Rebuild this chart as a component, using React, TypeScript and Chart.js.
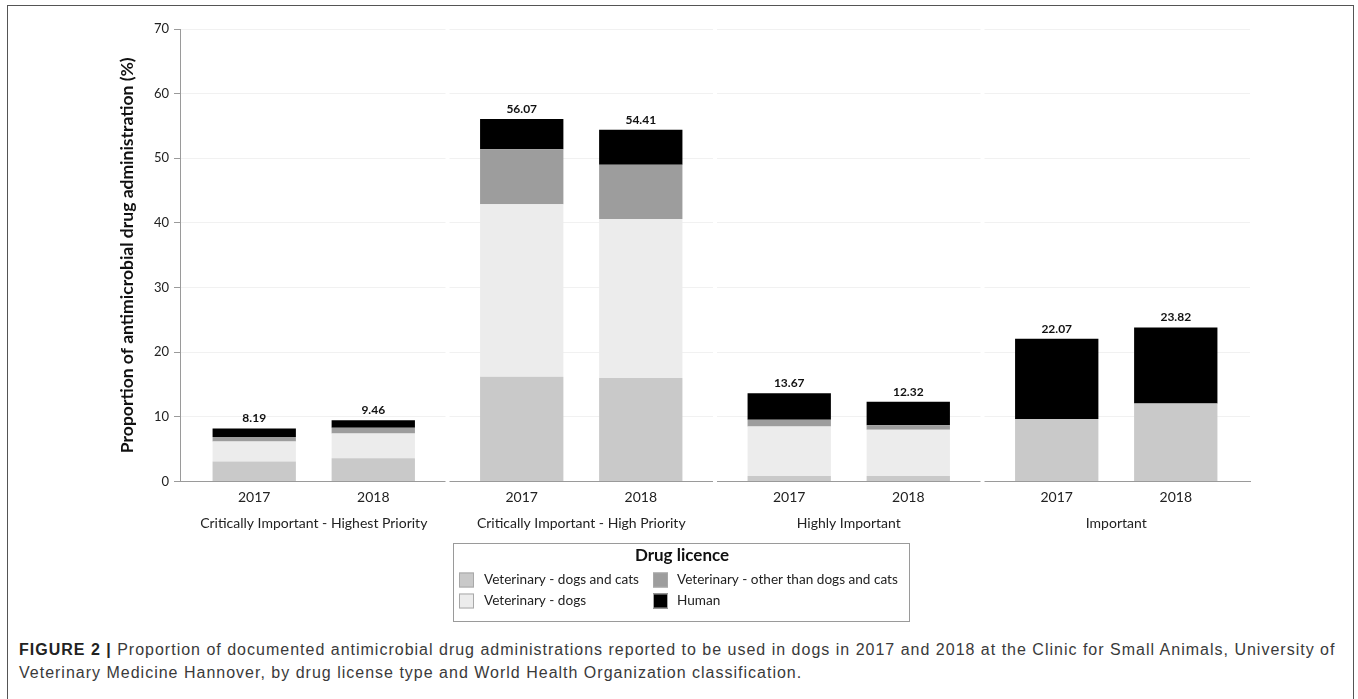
import React, { useEffect, useRef } from 'react';
import { Chart, registerables } from 'chart.js';

Chart.register(...registerables);

const FONT = 'Lato, "Open Sans", sans-serif';

const categories = [
  'Critically Important - Highest Priority',
  'Critically Important - High Priority',
  'Highly Important',
  'Important',
];
const years = ['2017', '2018'];
const seriesNames = [
  'Veterinary - dogs and cats',
  'Veterinary - dogs',
  'Veterinary - other than dogs and cats',
  'Human',
];
const seriesColors = ['#c9c9c9', '#ececec', '#9d9d9d', '#000000'];

const vetDogsCats2017 = [3.08, 16.2, 0.85, 9.65];
const vetDogs2017 = [3.1, 26.7, 7.65, 0];
const vetOther2017 = [0.72, 8.5, 1.05, 0];
const human2017 = [1.29, 4.67, 4.12, 12.42];

const vetDogsCats2018 = [3.6, 16.0, 0.85, 12.08];
const vetDogs2018 = [3.82, 24.6, 7.15, 0];
const vetOther2018 = [0.88, 8.4, 0.72, 0];
const human2018 = [1.16, 5.41, 3.6, 11.74];

const totals2017 = [8.19, 56.07, 13.67, 22.07];
const totals2018 = [9.46, 54.41, 12.32, 23.82];

const yTicks = [0, 10, 20, 30, 40, 50, 60, 70];

const seriesByYear = [
  [vetDogsCats2017, vetDogs2017, vetOther2017, human2017],
  [vetDogsCats2018, vetDogs2018, vetOther2018, human2018],
];
const totalsByYear = [totals2017, totals2018];

const decorPlugin = {
  id: 'decor',
  beforeDatasetsDraw(chart: any) {
    const { ctx, chartArea, scales } = chart;
    const x = scales.x;
    const w = (chartArea.right - chartArea.left) / categories.length;
    ctx.save();
    ctx.fillStyle = '#ffffff';
    for (let i = 0; i < categories.length - 1; i++) {
      const bx = x.getPixelForValue(i) + w / 2;
      ctx.fillRect(bx - 2, chartArea.top - 2, 4, chartArea.bottom - chartArea.top + 4);
    }
    ctx.restore();
  },
  afterDatasetsDraw(chart: any) {
    const { ctx, chartArea, scales } = chart;
    const y = scales.y;
    ctx.save();
    ctx.textAlign = 'center';
    ctx.textBaseline = 'middle';
    years.forEach((yr, yi) => {
      const meta = chart.getDatasetMeta(yi * seriesNames.length);
      meta.data.forEach((bar: any, i: number) => {
        const total = totalsByYear[yi][i];
        ctx.font = `bold 12px ${FONT}`;
        ctx.fillStyle = '#111111';
        ctx.fillText(total.toFixed(2), bar.x, y.getPixelForValue(total) - 10);
        ctx.font = `14px ${FONT}`;
        ctx.fillStyle = '#222222';
        ctx.fillText(yr, bar.x, chartArea.bottom + 16);
      });
    });
    ctx.restore();
  },
  afterDraw(chart: any) {
    const { ctx } = chart;
    const box = { x: 453.5, y: 543.5, w: 456, h: 78 };
    ctx.save();
    ctx.strokeStyle = '#9a9a9a';
    ctx.lineWidth = 1;
    ctx.strokeRect(box.x, box.y, box.w, box.h);
    ctx.font = `bold 17px ${FONT}`;
    ctx.fillStyle = '#111111';
    ctx.textAlign = 'center';
    ctx.textBaseline = 'middle';
    ctx.fillText('Drug licence', 682, 556);
    const colSwatch = [459, 653];
    const colText = [484, 677];
    const rowY = [580, 601];
    ctx.textAlign = 'left';
    ctx.font = `13.6px ${FONT}`;
    seriesNames.forEach((name, s) => {
      const col = Math.floor(s / 2);
      const row = s % 2;
      const cy = rowY[row];
      ctx.fillStyle = seriesColors[s];
      ctx.fillRect(colSwatch[col], cy - 7.5, 15, 15);
      ctx.strokeStyle = '#a8a8a8';
      ctx.strokeRect(colSwatch[col] + 0.5, cy - 7, 14, 14);
      ctx.fillStyle = '#222222';
      ctx.fillText(name, colText[col], cy);
    });
    ctx.restore();
  },
};

export default function App() {
  const ref = useRef<HTMLCanvasElement | null>(null);

  useEffect(() => {
    if (!ref.current) return;
    const datasets: any[] = [];
    years.forEach((yr, yi) => {
      seriesNames.forEach((name, s) => {
        datasets.push({
          label: name,
          data: seriesByYear[yi][s],
          backgroundColor: seriesColors[s],
          borderWidth: 0,
          stack: yr,
          categoryPercentage: 0.89,
          barPercentage: 0.7,
        });
      });
    });
    const chart = new Chart(ref.current, {
      type: 'bar',
      data: { labels: categories, datasets },
      plugins: [decorPlugin],
      options: {
        animation: false,
        responsive: false,
        layout: { padding: { left: 117, right: 108, top: 29, bottom: 88.5 } },
        plugins: {
          legend: { display: false },
          tooltip: { enabled: false },
        },
        scales: {
          x: {
            stacked: true,
            grid: { display: false },
            border: { display: true, color: '#9a9a9a', width: 1 },
            ticks: {
              color: '#222222',
              font: { family: FONT, size: 14 },
              padding: 26,
              maxRotation: 0,
              autoSkip: false,
            },
            afterFit: (scale: any) => {
              scale.height = 60;
            },
          },
          y: {
            stacked: true,
            min: 0,
            max: 70,
            afterBuildTicks: (scale: any) => {
              scale.ticks = yTicks.map((v) => ({ value: v }));
            },
            grid: { color: '#f1f1f1', tickColor: '#9a9a9a', tickLength: 6 },
            border: { display: true, color: '#9a9a9a', width: 1 },
            ticks: {
              color: '#222222',
              font: { family: FONT, size: 13 },
              padding: 5,
            },
            title: {
              display: true,
              text: 'Proportion of antimicrobial drug administration (%)',
              color: '#111111',
              font: { family: FONT, size: 17.5, weight: 'bold' },
              padding: { top: 0, bottom: 0 },
            },
            afterFit: (scale: any) => {
              scale.width = 63;
            },
          },
        },
      },
    });
    return () => chart.destroy();
  }, []);

  return (
    <div
      style={{
        position: 'absolute',
        left: 0,
        top: 0,
        width: 1358,
        height: 699,
        overflow: 'hidden',
        background: '#ffffff',
      }}
    >
      <div
        style={{
          position: 'absolute',
          left: 7,
          top: 5,
          width: 1347,
          height: 720,
          boxSizing: 'border-box',
          border: '1px solid #555555',
        }}
      />
      <canvas
        ref={ref}
        width={1358}
        height={630}
        style={{ position: 'absolute', left: 0, top: 0, width: 1358, height: 630 }}
      />
      <div
        style={{
          position: 'absolute',
          left: 19,
          top: 638,
          fontFamily: '"Liberation Sans", Arial, sans-serif',
          fontSize: 16,
          letterSpacing: '1px',
          lineHeight: '23px',
          color: '#3a3a3a',
          whiteSpace: 'nowrap',
        }}
      >
        <span style={{ fontWeight: 'bold', color: '#222222' }}>FIGURE 2 |</span> Proportion of
        documented antimicrobial drug administrations reported to be used in dogs in 2017 and 2018
        at the Clinic for Small Animals, University of
        <br />
        Veterinary Medicine Hannover, by drug license type and World Health Organization
        classification.
      </div>
    </div>
  );
}
